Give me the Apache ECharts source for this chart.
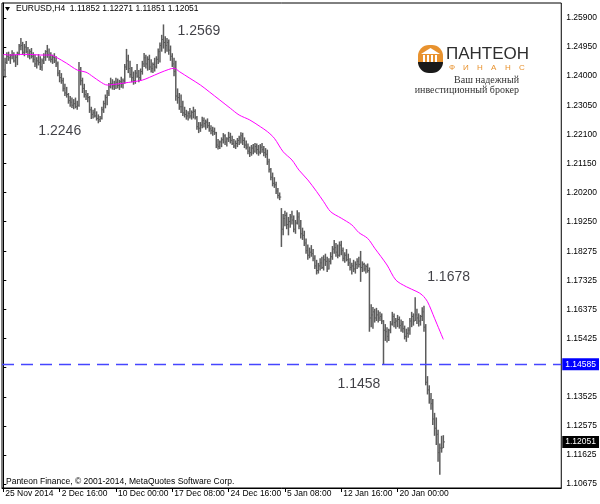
<!DOCTYPE html>
<html>
<head>
<meta charset="utf-8">
<script src="https://cdn.jsdelivr.net/npm/echarts@6/dist/echarts.min.js"></script>
<style>
html,body{margin:0;padding:0;background:#fff;}
#chart{width:600px;height:504px;}
</style>
</head>
<body>
<div id="chart"></div>
<script>
// ---- DATA ----
const symbolName = 'EURUSD,H4';
const lastOHLC = [1.11852, 1.12271, 1.11851, 1.12051];
const levelPrice = 1.14585;

const highs = [
1.2470,1.2460,1.2478,1.2480,1.2472,1.2485,1.2478,1.2470,1.2480,1.2505,
1.2525,1.2512,1.2505,1.2515,1.2495,1.2488,1.2492,1.2478,1.2470,1.2462,
1.2472,1.2465,1.2458,1.2475,1.2485,1.2502,1.2490,1.2478,1.2470,1.2475,
1.2465,1.2448,1.2420,1.2410,1.2395,1.2375,1.2365,1.2345,1.2335,1.2330,
1.2325,1.2330,1.2320,1.2446,1.2430,1.2395,1.2375,1.2355,1.2345,1.2335,
1.2300,1.2290,1.2295,1.2285,1.2275,1.2270,1.2300,1.2320,1.2340,1.2355,
1.2378,1.2395,1.2390,1.2385,1.2395,1.2392,1.2388,1.2398,1.2392,1.2440,
1.2489,1.2470,1.2450,1.2430,1.2415,1.2420,1.2440,1.2420,1.2425,1.2450,
1.2476,1.2470,1.2465,1.2470,1.2455,1.2445,1.2460,1.2465,1.2490,1.2510,
1.2535,1.2569,1.2530,1.2525,1.2520,1.2500,1.2475,1.2460,1.2450,1.2360,
1.2345,1.2340,1.2320,1.2300,1.2290,1.2285,1.2296,1.2288,1.2300,1.2292,
1.2270,1.2250,1.2250,1.2267,1.2265,1.2258,1.2262,1.2250,1.2240,1.2235,
1.2232,1.2218,1.2195,1.2190,1.2200,1.2214,1.2210,1.2200,1.2218,1.2215,
1.2205,1.2195,1.2190,1.2198,1.2205,1.2217,1.2215,1.2200,1.2190,1.2180,
1.2170,1.2175,1.2178,1.2182,1.2180,1.2175,1.2178,1.2182,1.2172,1.2165,
1.2160,1.2130,1.2100,1.2085,1.2070,1.2055,1.2035,1.2020,1.1969,1.1950,
1.1960,1.1955,1.1940,1.1950,1.1960,1.1945,1.1930,1.1962,1.1955,1.1930,
1.1905,1.1895,1.1870,1.1850,1.1840,1.1848,1.1835,1.1815,1.1800,1.1790,
1.1805,1.1810,1.1815,1.1820,1.1810,1.1805,1.1825,1.1845,1.1865,1.1855,
1.1850,1.1860,1.1862,1.1840,1.1825,1.1835,1.1820,1.1805,1.1790,1.1800,
1.1795,1.1805,1.1810,1.1829,1.1795,1.1790,1.1785,1.1788,1.1775,1.1655,
1.1646,1.1640,1.1643,1.1635,1.1630,1.1625,1.1603,1.1590,1.1580,1.1575,
1.1600,1.1630,1.1625,1.1610,1.1620,1.1615,1.1605,1.1600,1.1585,1.1575,
1.1580,1.1610,1.1630,1.1625,1.1678,1.1640,1.1625,1.1620,1.1645,1.1650,
1.1590,1.1420,1.1390,1.1365,1.1345,1.1300,1.1285,1.1245,1.1200,1.1225,
1.12271];

const lows = [
1.2400,1.2395,1.2440,1.2450,1.2440,1.2455,1.2445,1.2430,1.2436,1.2468,
1.2485,1.2470,1.2465,1.2475,1.2460,1.2455,1.2458,1.2445,1.2430,1.2425,
1.2435,1.2420,1.2418,1.2440,1.2450,1.2460,1.2450,1.2445,1.2440,1.2443,
1.2430,1.2400,1.2380,1.2375,1.2350,1.2335,1.2330,1.2310,1.2300,1.2296,
1.2292,1.2295,1.2290,1.2300,1.2370,1.2345,1.2330,1.2322,1.2315,1.2280,
1.2260,1.2262,1.2265,1.2255,1.2246,1.2250,1.2258,1.2280,1.2295,1.2305,
1.2335,1.2360,1.2356,1.2355,1.2358,1.2360,1.2355,1.2362,1.2360,1.2375,
1.2420,1.2410,1.2395,1.2380,1.2372,1.2375,1.2395,1.2380,1.2385,1.2405,
1.2430,1.2425,1.2418,1.2420,1.2412,1.2410,1.2415,1.2425,1.2440,1.2445,
1.2480,1.2490,1.2475,1.2480,1.2470,1.2450,1.2430,1.2400,1.2320,1.2310,
1.2290,1.2280,1.2270,1.2265,1.2258,1.2255,1.2262,1.2258,1.2262,1.2258,
1.2225,1.2214,1.2218,1.2230,1.2232,1.2225,1.2230,1.2218,1.2210,1.2205,
1.2208,1.2165,1.2160,1.2162,1.2168,1.2180,1.2175,1.2170,1.2185,1.2180,
1.2175,1.2165,1.2162,1.2168,1.2175,1.2180,1.2175,1.2165,1.2160,1.2145,
1.2136,1.2140,1.2145,1.2150,1.2145,1.2140,1.2145,1.2150,1.2138,1.2133,
1.2110,1.2085,1.2060,1.2040,1.2035,1.2015,1.2000,1.1995,1.1842,1.1880,
1.1910,1.1900,1.1880,1.1905,1.1915,1.1890,1.1885,1.1915,1.1900,1.1870,
1.1865,1.1845,1.1820,1.1800,1.1805,1.1810,1.1795,1.1770,1.1752,1.1755,
1.1765,1.1770,1.1765,1.1780,1.1760,1.1768,1.1785,1.1800,1.1820,1.1810,
1.1805,1.1810,1.1815,1.1795,1.1790,1.1795,1.1780,1.1765,1.1752,1.1760,
1.1755,1.1770,1.1775,1.1728,1.1760,1.1762,1.1755,1.1758,1.1565,1.1580,
1.1575,1.1595,1.1600,1.1595,1.1600,1.1590,1.1458,1.1535,1.1530,1.1535,
1.1560,1.1585,1.1580,1.1575,1.1580,1.1575,1.1565,1.1562,1.1540,1.1532,
1.1545,1.1555,1.1580,1.1585,1.1600,1.1590,1.1582,1.1585,1.1600,1.1565,
1.1390,1.1360,1.1330,1.1310,1.1260,1.1225,1.1195,1.1140,1.1098,1.1170,
1.11851];

const closes = [
1.2420,1.2445,1.2465,1.2460,1.2468,1.2470,1.2450,1.2462,1.2475,1.2498,
1.2500,1.2478,1.2495,1.2480,1.2470,1.2480,1.2465,1.2455,1.2440,1.2450,
1.2445,1.2430,1.2450,1.2462,1.2480,1.2470,1.2462,1.2455,1.2462,1.2450,
1.2440,1.2410,1.2395,1.2385,1.2360,1.2345,1.2340,1.2320,1.2315,1.2305,
1.2310,1.2300,1.2305,1.2420,1.2385,1.2360,1.2340,1.2335,1.2330,1.2290,
1.2275,1.2280,1.2270,1.2262,1.2258,1.2262,1.2290,1.2310,1.2330,1.2345,
1.2365,1.2375,1.2368,1.2372,1.2380,1.2370,1.2382,1.2375,1.2385,1.2430,
1.2450,1.2425,1.2405,1.2395,1.2385,1.2410,1.2400,1.2395,1.2415,1.2440,
1.2460,1.2440,1.2455,1.2430,1.2425,1.2438,1.2430,1.2455,1.2480,1.2500,
1.2520,1.2510,1.2500,1.2510,1.2485,1.2465,1.2440,1.2415,1.2335,1.2330,
1.2300,1.2300,1.2280,1.2275,1.2270,1.2278,1.2270,1.2282,1.2285,1.2265,
1.2235,1.2230,1.2240,1.2255,1.2245,1.2250,1.2238,1.2228,1.2222,1.2220,
1.2215,1.2175,1.2170,1.2185,1.2192,1.2205,1.2185,1.2195,1.2200,1.2190,
1.2180,1.2172,1.2180,1.2190,1.2198,1.2205,1.2190,1.2175,1.2168,1.2155,
1.2150,1.2165,1.2155,1.2170,1.2160,1.2152,1.2168,1.2160,1.2150,1.2145,
1.2120,1.2095,1.2070,1.2050,1.2045,1.2025,1.2010,1.2005,1.1900,1.1935,
1.1945,1.1915,1.1925,1.1940,1.1930,1.1900,1.1920,1.1940,1.1910,1.1885,
1.1880,1.1855,1.1830,1.1815,1.1825,1.1820,1.1805,1.1780,1.1765,1.1780,
1.1790,1.1775,1.1800,1.1795,1.1770,1.1795,1.1810,1.1835,1.1840,1.1825,
1.1815,1.1848,1.1830,1.1805,1.1815,1.1800,1.1790,1.1775,1.1780,1.1770,
1.1785,1.1795,1.1785,1.1775,1.1785,1.1770,1.1778,1.1765,1.1610,1.1620,
1.1630,1.1610,1.1620,1.1610,1.1615,1.1600,1.1570,1.1565,1.1550,1.1570,
1.1590,1.1615,1.1595,1.1600,1.1605,1.1585,1.1590,1.1575,1.1550,1.1560,
1.1570,1.1600,1.1615,1.1600,1.1620,1.1610,1.1600,1.1615,1.1630,1.1580,
1.1400,1.1375,1.1345,1.1330,1.1280,1.1250,1.1230,1.1170,1.1185,1.1185,
1.12051];

// moving average: bar index / value
const maIdx = [0,4,10,15,21,27,30,36,42,47,51,55,59,63,68,74,79,83,89,94,97,100,106,112,117,123,129,134,140,146,150,154,159,164,168,173,178,182,186,192,198,202,207,211,218,223,229,235,238,241,245,250];
const maVal = [1.2471,1.2469,1.2471,1.2471,1.2469,1.2469,1.2462,1.2442,1.2420,1.2413,1.2398,1.2382,1.2371,1.2373,1.2377,1.2382,1.2387,1.2396,1.2411,1.2422,1.2426,1.2415,1.2393,1.2371,1.2349,1.2322,1.2295,1.2273,1.2257,1.2235,1.2219,1.2197,1.2153,1.2126,1.2093,1.2061,1.2023,1.1990,1.1957,1.1936,1.1914,1.1889,1.1870,1.1838,1.1783,1.1734,1.1712,1.1696,1.1685,1.1663,1.1609,1.1540];

// time axis labels (bar index where each label sits)
const xTickIdx = [0,32,64,96,128,160,192,224];
const xTickText = ['25 Nov 2014','2 Dec 16:00','10 Dec 00:00','17 Dec 08:00','24 Dec 16:00','5 Jan 08:00','12 Jan 16:00','20 Jan 00:00'];

// price axis labels
const yTicks = [1.25900,1.24950,1.24000,1.23050,1.22100,1.21150,1.20200,1.19250,1.18275,1.17325,1.16375,1.15425,1.14475,1.13525,1.12575,1.11625,1.10675];

// annotations (bar index, price, text)
const annIdx = [91, 54, 234, 216];
const annPrice = [1.2569, 1.2246, 1.1678, 1.1458];
const annText = ['1.2569','1.2246','1.1678','1.1458'];

// ---- STYLE / LAYOUT ----
const annOffsets = [[14,7],[-60,8],[12,-20],[-46,20]];
const FONT = 'Liberation Sans';

const chart = echarts.init(document.getElementById('chart'), null, {renderer:'canvas'});

const barData = highs.map((h, i) => [i, h, lows[i], closes[i]]);
const maData = maIdx.map((x, k) => [x, maVal[k]]);
const annData = annIdx.map((x, k) => ({
  value: [x, annPrice[k]],
  label: {formatter: annText[k], offset: annOffsets[k]}
}));

const priceLabel = (bg) => ({
  show: true, position: 'end', distance: 1,
  formatter: p => Number(p.value).toFixed(5),
  backgroundColor: bg, color: '#fff', padding: [2, 3, 1, 3],
  fontFamily: FONT, fontSize: 8.5
});

const option = {
  animation: false,
  backgroundColor: '#fff',
  grid: {left: 2, right: 38, top: 3, bottom: 16, show: true, borderColor: '#000', borderWidth: 1, backgroundColor: '#fff'},
  xAxis: {
    type: 'value', min: -0.74, max: 317,
    splitLine: {show: false},
    axisLine: {show: true, onZero: false, lineStyle: {color: '#000', width: 1}},
    axisTick: {show: true, customValues: xTickIdx, length: 4, lineStyle: {color: '#000'}},
    axisLabel: {
      customValues: xTickIdx,
      formatter: v => { const k = xTickIdx.indexOf(v); return k >= 0 ? xTickText[k] : ''; },
      align: 'left', margin: 1, padding: [0,0,0,2],
      fontFamily: FONT, fontSize: 8.5, color: '#000'
    }
  },
  yAxis: {
    type: 'value', position: 'right', min: 1.10545, max: 1.2639, scale: true,
    splitLine: {show: false},
    axisLine: {show: true, lineStyle: {color: '#000', width: 1}},
    axisTick: {show: true, customValues: yTicks, length: 3, lineStyle: {color: '#000'}},
    axisLabel: {
      customValues: yTicks,
      formatter: v => v.toFixed(5),
      margin: 5, fontFamily: FONT, fontSize: 8.5, color: '#000'
    }
  },
  series: [
    {
      type: 'custom',
      name: 'bars',
      data: barData,
      encode: {x: 0, y: [1, 2, 3]},
      z: 2,
      renderItem: function (params, api) {
        const i = api.value(0);
        const pH = api.coord([i, api.value(1)]);
        const pL = api.coord([i, api.value(2)]);
        const pC = api.coord([i, api.value(3)]);
        return {
          type: 'group',
          children: [
            {type: 'line', shape: {x1: pH[0], y1: pH[1], x2: pL[0], y2: pL[1]}, style: {stroke: '#5c5c5c', lineWidth: 1.5}},
            {type: 'line', shape: {x1: pC[0], y1: pC[1], x2: pC[0] + 1.6, y2: pC[1]}, style: {stroke: '#5c5c5c', lineWidth: 1}}
          ]
        };
      }
    },
    {
      type: 'line',
      name: 'MA',
      data: maData,
      showSymbol: false,
      symbol: 'none',
      smooth: 0.3,
      z: 3,
      lineStyle: {color: '#ff00ff', width: 1},
      markLine: {
        silent: true,
        precision: 5,
        symbol: ['none', 'none'],
        animation: false,
        z: 5,
        data: [
          {yAxis: levelPrice,
           lineStyle: {color: '#4646ff', type: [12, 7], width: 1.3},
           label: priceLabel('#0000ff')},
          {yAxis: lastOHLC[3],
           lineStyle: {color: 'rgba(0,0,0,0)', width: 0.01},
           label: priceLabel('#000')}
        ]
      }
    },
    {
      type: 'scatter',
      name: 'annotations',
      data: annData,
      symbolSize: 1,
      itemStyle: {color: 'rgba(0,0,0,0)'},
      z: 4,
      label: {show: true, position: 'inside', align: 'left', verticalAlign: 'middle',
              fontFamily: FONT, fontSize: 14, color: '#101018'}
    }
  ],
  graphic: [
    {type: 'polygon', shape: {points: [[5,7],[10,7],[7.5,11]]}, style: {fill: '#000'}},
    {type: 'text', left: 16, top: 4, style: {text: symbolName + '  ' + lastOHLC.map(v => v.toFixed(5)).join(' '), font: '8.5px "Liberation Sans"', fill: '#000'}},
    {type: 'text', left: 6, top: 477.5, style: {text: 'Panteon Finance, © 2001-2014, MetaQuotes Software Corp.', font: '8.5px "Liberation Sans"', fill: '#000'}},
    // logo
    {type: 'rect', shape: {x: 418, y: 45, width: 25, height: 19, r: [11, 11, 0, 0]}, style: {fill: '#e8922e'}},
    {type: 'rect', shape: {x: 418, y: 62, width: 25, height: 11, r: [0, 0, 11, 11]}, style: {fill: '#1a1a1a'}},
    {type: 'polygon', shape: {points: [[421,54],[430.5,48],[440,54]]}, style: {fill: '#fff'}},
    {type: 'rect', shape: {x: 423, y: 55, width: 2, height: 7}, style: {fill: '#fff'}},
    {type: 'rect', shape: {x: 427, y: 55, width: 2, height: 7}, style: {fill: '#fff'}},
    {type: 'rect', shape: {x: 431, y: 55, width: 2, height: 7}, style: {fill: '#fff'}},
    {type: 'rect', shape: {x: 435, y: 55, width: 2, height: 7}, style: {fill: '#fff'}},
    {type: 'text', left: 446, top: 46, style: {text: 'ПАНТЕОН', font: '17px "Liberation Sans"', fill: '#2e2e2e'}},
    {type: 'text', left: 449, top: 64, style: {text: 'Ф', font: '8px "Liberation Sans"', fill: '#e8922e'}},
    {type: 'text', left: 463, top: 64, style: {text: 'И', font: '8px "Liberation Sans"', fill: '#e8922e'}},
    {type: 'text', left: 477, top: 64, style: {text: 'Н', font: '8px "Liberation Sans"', fill: '#e8922e'}},
    {type: 'text', left: 491, top: 64, style: {text: 'А', font: '8px "Liberation Sans"', fill: '#e8922e'}},
    {type: 'text', left: 505, top: 64, style: {text: 'Н', font: '8px "Liberation Sans"', fill: '#e8922e'}},
    {type: 'text', left: 519, top: 64, style: {text: 'С', font: '8px "Liberation Sans"', fill: '#e8922e'}},
    {type: 'text', right: 81, top: 75, style: {text: 'Ваш надежный', font: '10px "Liberation Serif"', fill: '#333', align: 'right'}},
    {type: 'text', right: 81, top: 85, style: {text: 'инвестиционный брокер', font: '10px "Liberation Serif"', fill: '#333', align: 'right'}}
  ]
};
chart.setOption(option);
</script>
</body>
</html>
